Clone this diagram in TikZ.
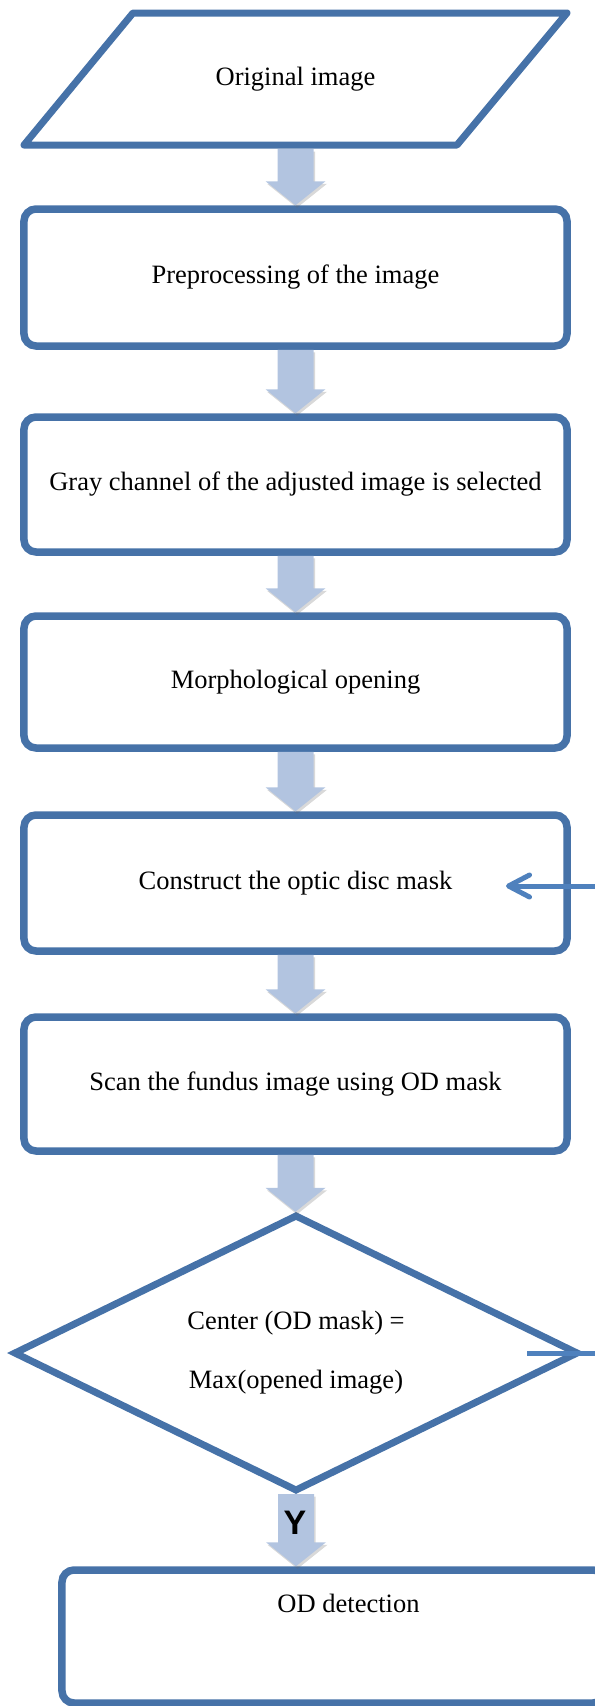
\documentclass[tikz,border=0pt]{standalone}
\usepackage{fontspec}
\setmainfont{Liberation Serif}
\setsansfont{Liberation Sans}
\usetikzlibrary{shadows,arrows.meta,calc}

\definecolor{flowblue}{RGB}{70,114,168}
\definecolor{loopblue}{RGB}{79,129,189}
\definecolor{arrowfill}{RGB}{178,196,224}

\tikzset{
	softshadow/.style={drop shadow={shadow xshift=1.5bp, shadow yshift=-2.5bp, opacity=0.25, fill=black!60}},
	procbox/.style={draw=flowblue, line width=7.5bp, rounded corners=12bp, fill=white,
		minimum width=543bp, minimum height=135bp, inner sep=0pt, align=center, softshadow},
	outline/.style={draw=flowblue, line width=7bp, line join=round, fill=white, softshadow}
}

% block arrow from one node down to the next
\newcommand{\flowarrow}[2]{%
	\fill[arrowfill, softshadow] let \p1=(#1), \p2=(#2) in
		(\x1-18bp,\y1) -- (\x1+18bp,\y1) -- (\x1+18bp,\y2+24bp) -- (\x1+30bp,\y2+24bp)
		-- (\x1,\y2) -- (\x1-30bp,\y2+24bp) -- (\x1-18bp,\y2+24bp) -- cycle;}

\begin{document}
\begin{tikzpicture}[x=1bp, y=-1bp, font=\fontsize{26.5bp}{31.8bp}\selectfont]
	\useasboundingbox (0,0) rectangle (595,1706);
	
	% input parallelogram
	\draw [outline] (133,13) -- (567,13) -- (457,145) -- (24,145) -- cycle;
	\node (orig) [minimum height=140bp, inner sep=0pt] at (295.5,79) {Original image};
	
	\node (prep) [procbox, minimum height=137bp] at (295.5,277.5) {Preprocessing of the image};
	\node (gray) [procbox] at (295.5,484.5) {Gray channel of the adjusted image is selected};
	\node (morph) [procbox, minimum height=132bp] at (295.5,682) {Morphological opening};
	\node (mask) [procbox, minimum height=136bp] at (295.5,883) {Construct the optic disc mask};
	\node (scan) [procbox, minimum height=134bp] at (295.5,1084) {Scan the fundus image using OD mask};
	
	% decision diamond
	\draw [outline, line join=miter] (296,1216) -- (577,1353) -- (296,1490) -- (15,1353) -- cycle;
	\node (check) [minimum height=282bp, inner sep=0pt, align=center] at (296,1353) {Center (OD mask) =\\[27bp]Max(opened image)};
	
	\node (detect) [procbox, minimum height=133bp, text height=18bp, text depth=66bp] at (333.5,1636.5) {\hspace*{30bp}OD detection};
	
	\flowarrow{orig.south}{prep.north}
	\flowarrow{prep.south}{gray.north}
	\flowarrow{gray.south}{morph.north}
	\flowarrow{morph.south}{mask.north}
	\flowarrow{mask.south}{scan.north}
	\flowarrow{scan.south}{check.north}
	\flowarrow{check.south}{detect.north}
	
	\node (yes) at (295,1523) {\sffamily\bfseries\fontsize{34bp}{40bp}\selectfont Y};
	
	% loop back when the maximum is not met
	\coordinate (nostart) at (527,1353);
	\coordinate (noend) at (506,886);
	\draw [loopblue, line width=5bp, -{Straight Barb[length=21bp, width=22bp, round]}]
		(nostart) -- ++(123,0) |- (noend);
\end{tikzpicture}
\end{document}
